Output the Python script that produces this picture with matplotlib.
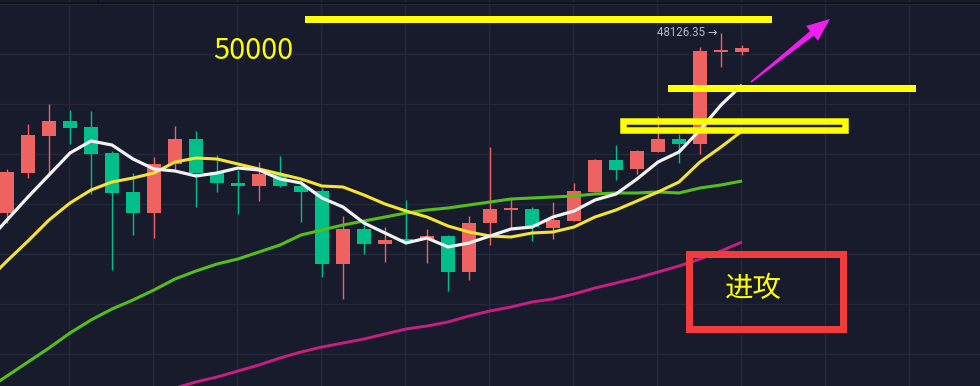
import matplotlib
matplotlib.use("Agg")
import matplotlib.pyplot as plt
from matplotlib.patches import Rectangle, Polygon
import numpy as np

# ---------------- data (price units) ----------------
opens  = [30100, 34100, 37800, 39300, 38700, 36100, 32200, 30100, 35000, 37500,
          34200, 33100, 32800, 34000, 32800, 32300, 25000, 28500, 27000, 27500,
          27500, 27800, 24200, 29100, 30400, 30500, 28600, 29300, 32200, 35400,
          34500, 36200, 37500, 37000, 46200, 46200]
highs  = [34500, 39000, 41000, 40400, 40300, 36300, 34100, 35700, 38800, 38300,
          35900, 34400, 35200, 35800, 33600, 32600, 29800, 29100, 28700, 31400,
          28500, 27900, 29800, 36700, 31600, 30700, 31200, 33100, 35500, 36900,
          36400, 39800, 38000, 46700, 48126.35, 46900]
lows   = [29100, 33600, 34100, 37000, 32000, 24400, 27900, 27600, 34400, 30700,
          32200, 30000, 31300, 32700, 29200, 23700, 21500, 26000, 25200, 27000,
          25100, 22300, 23400, 26900, 28500, 27300, 27500, 29300, 32200, 33400,
          34000, 36200, 35100, 36000, 44700, 45900]
closes = [34200, 37900, 39300, 38600, 36000, 32100, 30100, 35000, 37500, 34100,
          33100, 32800, 34000, 32800, 32200, 25000, 28500, 27000, 27400, 27300,
          27800, 24200, 29100, 30500, 30600, 28700, 29400, 32300, 35400, 34400,
          36300, 37500, 37000, 46300, 46400, 46600]

# moving averages, first value belongs to the bar before the visible window
ma_white  = [27100, 29400, 31700, 33900, 36100, 37300, 36900, 35500, 34500, 34300,
             33800, 34100, 34600, 34400, 33500, 33100, 31600, 30700, 29100, 28100,
             27100, 27600, 26700, 27100, 27800, 28500, 28700, 29700, 30300, 31400,
             32000, 33500, 35200, 36200, 38400, 40900, 42900]
ma_yellow = [23200, 25300, 27300, 29400, 31100, 32400, 33200, 33600, 34100, 35200,
             35600, 35500, 35000, 34500, 34000, 33500, 32800, 32700, 31900, 31000,
             30300, 29700, 28800, 28200, 27800, 27700, 28100, 28200, 28700, 29700,
             30400, 31300, 32200, 33200, 35200, 36700, 38300]
ma_green  = [12400, 13800, 15200, 16600, 18100, 19400, 20500, 21400, 22400, 23500,
             24300, 25000, 25500, 26200, 26900, 27900, 28400, 28900, 29300, 29700,
             30100, 30400, 30600, 30900, 31200, 31500, 31600, 31700, 31800, 32000,
             32100, 32100, 32200, 32100, 32600, 32900, 33300]
ma_magenta = [12600, 13200, 13700, 14300, 14900, 15600, 16200, 16700, 17100, 17500,
              18000, 18500, 18800, 19200, 19800, 20300, 20700, 21200, 21500, 22000,
              22600, 23100, 23600, 24200, 24800, 25500, 26300, 27200]   # from bar 8

high_label = "48126.35 →"
level_label = "50000"
box_label = "进攻"

# ---------------- style ----------------
BG = "#181b2c"
GRID = "#232839"
UP = "#ef6262"
DOWN = "#00bf8a"

fig = plt.figure(figsize=(9.8, 3.86), dpi=100, facecolor=BG)
ax = fig.add_axes([0, 0, 1, 1])
ax.set_facecolor(BG)

n = len(opens)
idx = np.arange(n)
ax.set_xlim(-1 / 3, 46 + 1 / 3)
ax.set_ylim(12800, 51400)

# grid
for gx in np.arange(-1, 48, 4) - 1 / 21:
    ax.axvline(gx, color=GRID, lw=1, zorder=0)
for gy in range(16000, 52000, 5000):
    ax.axhline(gy, color=GRID, lw=1, zorder=0)

# candles
width = 0.7
for i in range(n):
    o, h, l, c = opens[i], highs[i], lows[i], closes[i]
    col = UP if c >= o else DOWN
    ax.vlines(i, l, h, color=col, lw=1.0, zorder=2)
    bottom = min(o, c)
    height = max(abs(c - o), 200)
    ax.bar(i, height, width=width, bottom=bottom, color=col, zorder=3, linewidth=0)

# MAs
x_ma = np.arange(-1, n)
ax.plot(x_ma, ma_green, color="#55bd1c", lw=2.2, zorder=4, solid_capstyle="butt")
ax.plot(np.arange(8, n), ma_magenta, color="#c81e82", lw=2.1, zorder=4, solid_capstyle="butt")
ax.plot(x_ma, ma_yellow, color="#f5e431", lw=2.2, zorder=5, solid_capstyle="butt")
ax.plot(x_ma, ma_white, color="#f2f2f2", lw=2.3, zorder=6, solid_capstyle="butt")

ax.axis("off")

# high marker label
ax.text(n - 2.15, highs[n - 2], high_label, color="#b4bac8", fontsize=8.3,
        family=["Roboto", "DejaVu Sans"], ha="right", va="center",
        transform=ax.transData, zorder=7)

# ---------------- annotation overlay (pixel coords) ----------------
ov = fig.add_axes([0, 0, 1, 1], zorder=10)
ov.set_xlim(0, 980)
ov.set_ylim(386, 0)
ov.axis("off")
ov.patch.set_alpha(0)

ov.plot([0, 980], [2.5, 2.5], color="#0f111c", lw=1.2)
ov.plot([98, 98], [0, 2.5], color="#0f111c", lw=1.2)

YEL = "#ffff00"
ov.add_patch(Rectangle((305, 16), 467, 7, facecolor=YEL, edgecolor="none"))
ov.add_patch(Rectangle((668, 85), 248, 7, facecolor=YEL, edgecolor="none"))
ov.add_patch(Rectangle((623.3, 120.5), 221.4, 9.5, facecolor="none", edgecolor=YEL,
                       lw=6.5 * 0.72, joinstyle="miter"))
ov.add_patch(Rectangle((688.5, 253.5), 154, 75, facecolor="none", edgecolor="#f23c3c",
                       lw=7 * 0.72, joinstyle="miter"))

# magenta arrow
tail = np.array([751.0, 82.0])
tip = np.array([830.0, 19.0])
u = (tip - tail) / np.linalg.norm(tip - tail)
nrm = np.array([u[1] * -1, u[0]])
base = tail + u * 78
pts = [tail - 0.8 * nrm, base - 3 * nrm, base - 9.5 * nrm, tip,
       base + 9.5 * nrm, base + 3 * nrm, tail + 0.8 * nrm]
ov.add_patch(Polygon(pts, closed=True, facecolor="#ec1fec", edgecolor="none"))

ov.text(253, 59, level_label, color=YEL, fontsize=20.8, ha="center", va="baseline",
        family=["Noto Sans CJK SC", "DejaVu Sans"])
ov.text(753, 297, box_label, color=YEL, fontsize=20.5, ha="center", va="baseline",
        family=["Noto Sans CJK SC", "DejaVu Sans"])

fig.savefig("out.png", dpi=100, facecolor=BG)
